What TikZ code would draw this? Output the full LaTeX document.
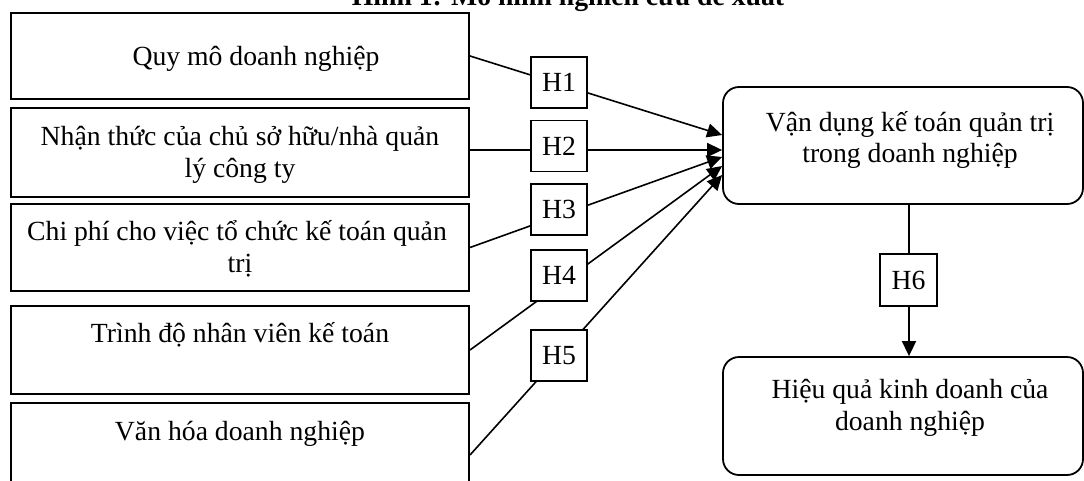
\documentclass[tikz,border=0pt]{standalone}
\usepackage{fontspec}
\setmainfont{Liberation Serif}
\usetikzlibrary{arrows.meta}
\tikzset{
  lbox/.style={draw, line width=2pt, minimum width=458pt, inner sep=0pt},
  rbox/.style={draw, line width=1.8pt, rounded corners=16pt, minimum width=360pt, inner sep=0pt},
  hbox/.style={draw, line width=1.6pt, fill=white, minimum width=56pt, minimum height=51pt, inner sep=0pt, font=\fontsize{27.7}{32}\selectfont},
  txt/.style={anchor=base, inner sep=0pt, font=\fontsize{27.7}{32}\selectfont},
  conn/.style={line width=1.6pt, -{Triangle[length=15pt,width=14pt]}},
}
\begin{document}
\begin{tikzpicture}[x=1pt,y=-1pt]
\useasboundingbox (0,0) rectangle (1084,480);
\clip (0,0) rectangle (1084,480);
\fill[white] (0,0) rectangle (1084,480);
% title
\node[txt, font=\fontsize{27.7}{32}\selectfont\bfseries] (title) at (568,5) {Hình 1: Mô hình nghiên cứu đề xuất};
% left boxes
\node[lbox, minimum height=86pt] (b1) at (240,56) {};
\node[lbox, minimum height=89pt] (b2) at (240,152.5) {};
\node[lbox, minimum height=87pt] (b3) at (240,247.5) {};
\node[lbox, minimum height=88pt] (b4) at (240,350) {};
\node[lbox, minimum height=104pt] (b5) at (240,455) {};
\node[txt] (t1) at (256,65) {Quy mô doanh nghiệp};
\node[txt] (t2a) at (240,145) {Nhận thức của chủ sở hữu/nhà quản};
\node[txt] (t2b) at (240,177) {lý công ty};
\node[txt] (t3a) at (237,240) {Chi phí cho việc tổ chức kế toán quản};
\node[txt] (t3b) at (240,272) {trị};
\node[txt] (t4) at (240,342) {Trình độ nhân viên kế toán};
\node[txt] (t5) at (240,440) {Văn hóa doanh nghiệp};
% right boxes
\node[rbox, minimum height=117pt] (r1) at (903,145.5) {};
\node[rbox, minimum height=118pt] (r2) at (903,416) {};
\node[txt] (r1a) at (910,131) {Vận dụng kế toán quản trị};
\node[txt] (r1b) at (910,162) {trong doanh nghiệp};
\node[txt] (r2a) at (910,398) {Hiệu quả kinh doanh của};
\node[txt] (r2b) at (910,430) {doanh nghiệp};
% connectors
\draw[conn] (b1.east) -- ([yshift=10.5pt]r1.west);
\draw[conn] ([yshift=2.5pt]b2.east) -- ([yshift=-4.5pt]r1.west);
\draw[conn] (b3.east) -- ([yshift=-11.5pt]r1.west);
\draw[conn] (b4.east) -- ([yshift=-20.5pt]r1.west);
\draw[conn] (b5.east) -- ([yshift=-29.5pt]r1.west);
\draw[conn] (r1.south -| 909,0) -- (r2.north -| 909,0);
% hypothesis labels
\node[hbox] (h1) at (559,82.5) {H1};
\node[hbox] (h2) at (559,146) {H2};
\node[hbox] (h3) at (559,209.5) {H3};
\node[hbox] (h4) at (559,275.5) {H4};
\node[hbox] (h5) at (559,355.5) {H5};
\node[hbox, minimum width=57pt, minimum height=52pt] (h6) at (908.5,280) {H6};
\end{tikzpicture}
\end{document}
